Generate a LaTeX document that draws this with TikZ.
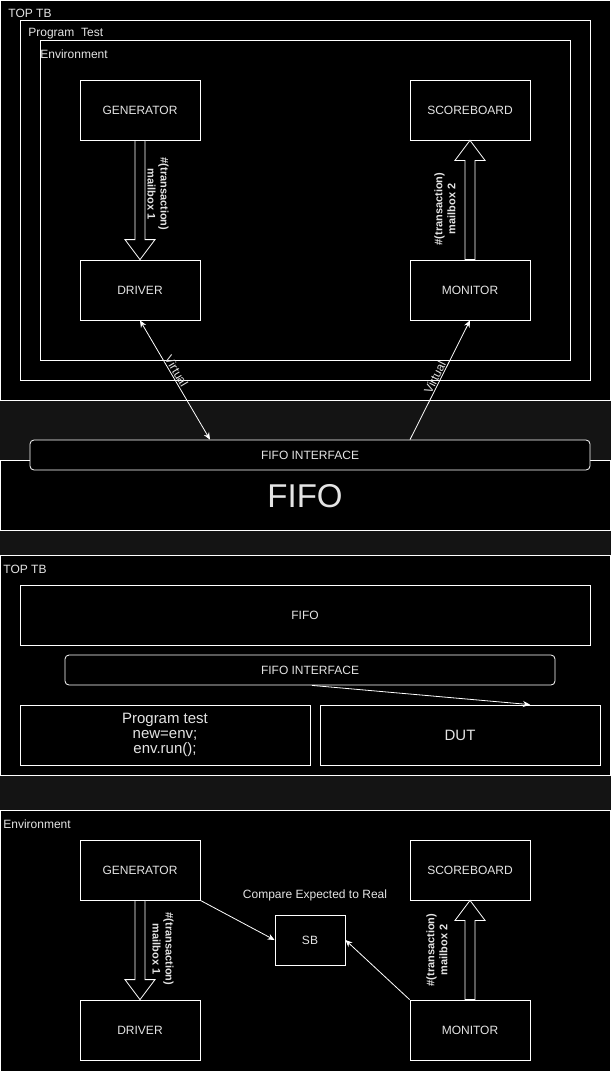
\documentclass[tikz,border=0pt]{standalone}
\usepackage{fontspec}
\setmainfont{Liberation Sans}
\usetikzlibrary{positioning, arrows.meta, calc}

\definecolor{bandgray}{RGB}{20,20,20}
\definecolor{txtgray}{RGB}{228,228,228}

% hollow block arrow: from, to, head offset (-20 down / 20 up)
\newcommand{\mailarrow}[3]{%
  \draw[blockarr] ($(#1)+(-5,0)$) -- ($(#2)+(-5,#3)$) -- ($(#2)+(-15,#3)$)
    -- (#2) -- ($(#2)+(15,#3)$) -- ($(#2)+(5,#3)$) -- ($(#1)+(5,0)$) -- cycle;}

\begin{document}
\begin{tikzpicture}[
  x=1pt, y=-1pt,
  >={Stealth[length=7pt, width=6pt]},
  line width=0.8pt,
  frame/.style={draw=white, fill=black, anchor=north west, inner sep=0pt},
  box/.style={draw=white, fill=black, minimum width=120pt, minimum height=60pt,
              text=txtgray, font=\fontsize{12}{14}\selectfont},
  rbox/.style={box, rounded corners=4pt, minimum height=30pt},
  tag/.style={text=txtgray, font=\fontsize{12}{14}\selectfont, anchor=west, inner sep=0pt},
  mail/.style={text=txtgray, font=\fontsize{11}{13}\selectfont\bfseries, align=center, inner sep=0pt},
  blockarr/.style={draw=white, fill=black, line join=miter},
  link/.style={draw=white, ->},
  lab/.style={text=txtgray, font=\fontsize{12}{14}\selectfont, sloped, above, inner sep=1pt}
]
  \useasboundingbox (0,0) rectangle (611,1071);
  \fill[bandgray] (0,0) rectangle (611,1071);

  % --- top testbench ---
  \node[frame, minimum width=610pt, minimum height=400pt] (toptb) at (0,0) {};
  \node[frame, minimum width=570pt, minimum height=360pt] (prog) at (20,20) {};
  \node[frame, minimum width=530pt, minimum height=320pt] (env) at (40,40) {};
  \node[tag] (toptbl) at (8,13) {TOP TB};
  \node[tag] (progl) at (28,34) {Program\ \ Test};
  \node[tag] (envl) at (40,54) {Environment};

  \node[box] (gen1) at (140,110) {GENERATOR};
  \node[box] (sco1) at (470,110) {SCOREBOARD};
  \node[box] (drv1) at (140,290) {DRIVER};
  \node[box] (mon1) at (470,290) {MONITOR};

  \mailarrow{gen1.south}{drv1.north}{-20}
  \mailarrow{mon1.north}{sco1.south}{20}
  \node[mail, rotate=-90] (mb1) at (158,194) {\#(transaction)\\mailbox 1};
  \node[mail, rotate=90] (mb2) at (445,209) {\#(transaction)\\mailbox 2};

  \node[frame, minimum width=610pt, minimum height=70pt] (fifo1) at (0,460) {};
  \node[text=txtgray, font=\fontsize{33}{36}\selectfont] (fifo1t) at (305,496) {FIFO};
  \node[rbox, minimum width=560pt] (fifoif1) at (310,455) {FIFO INTERFACE};

  \draw[link, <->] (drv1.south) -- node[lab, pos=0.45] {Virtual} ($(fifoif1.north)+(-100,0)$);
  \draw[link] ($(fifoif1.north)+(100,0)$) -- node[lab] {Virtual} (mon1.south);

  % --- top testbench, block view ---
  \node[frame, minimum width=610pt, minimum height=220pt] (toptb2) at (0,555) {};
  \node[tag] (toptb2l) at (3,569) {TOP TB};
  \node[box, minimum width=570pt] (fifo2) at (305,615) {FIFO};
  \node[rbox, minimum width=490pt] (fifoif2) at (310,670) {FIFO INTERFACE};
  \node[box, minimum width=290pt, align=center, font=\fontsize{15}{15}\selectfont]
    (prg) at (165,735) {Program test\\new=env;\\env.run();};
  \node[box, minimum width=280pt, font=\fontsize{15}{16}\selectfont] (dut) at (460,735) {DUT};
  \draw[link] ($(fifoif2.south)+(2,0)$) -- ($(dut.north)+(70,0)$);

  % --- environment ---
  \node[frame, minimum width=610pt, minimum height=262pt] (env2) at (0,810) {};
  \node[tag] (env2l) at (3,824) {Environment};
  \node[box] (gen2) at (140,870) {GENERATOR};
  \node[box] (sco2) at (470,870) {SCOREBOARD};
  \node[box] (drv2) at (140,1030) {DRIVER};
  \node[box] (mon2) at (470,1030) {MONITOR};
  \node[box, minimum width=70pt, minimum height=50pt] (sb) at (310,940) {SB};
  \node[tag, anchor=center] (cmp) at (315,895) {Compare Expected to Real};

  \mailarrow{gen2.south}{drv2.north}{-20}
  \mailarrow{mon2.north}{sco2.south}{20}
  \node[mail, rotate=-90] (mb3) at (163,949) {\#(transaction)\\mailbox 1};
  \node[mail, rotate=90] (mb4) at (437,950) {\#(transaction)\\mailbox 2};

  \draw[link] (gen2.south east) -- (sb.west);
  \draw[link] (mon2.north west) -- (sb.east);
\end{tikzpicture}
\end{document}
